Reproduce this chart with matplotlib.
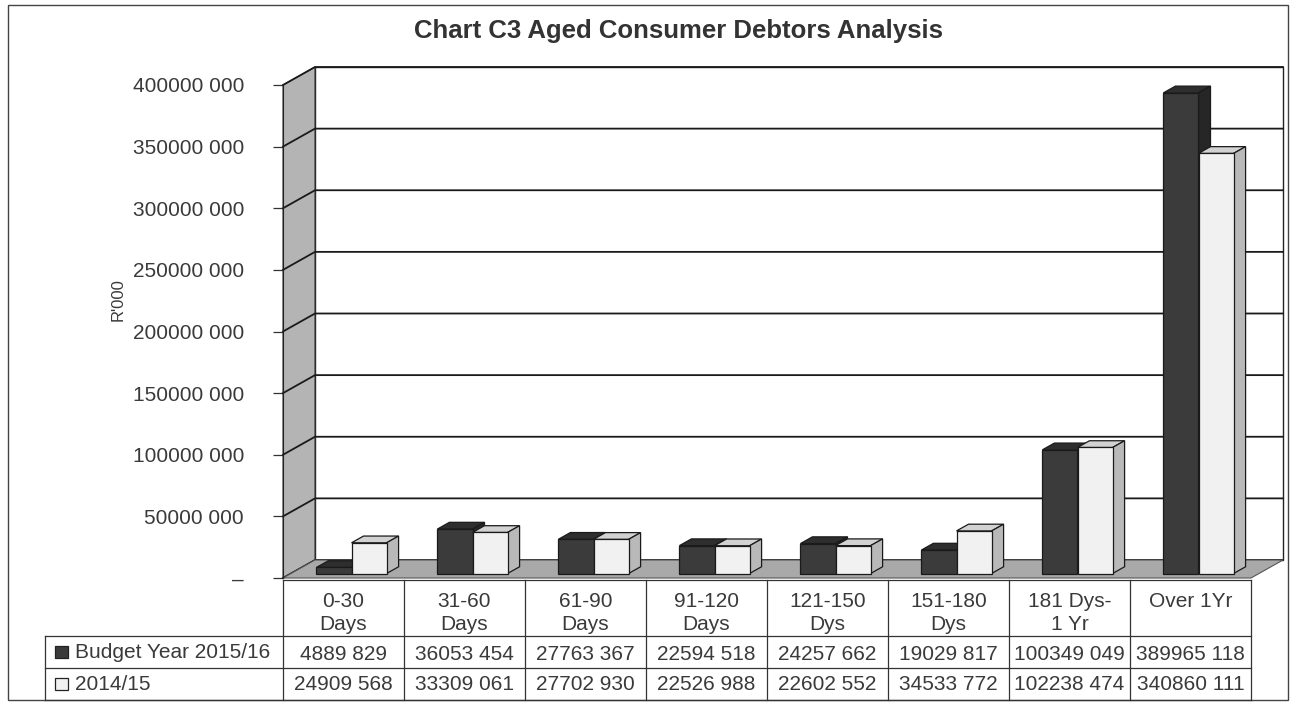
import matplotlib.pyplot as plt
from matplotlib.patches import Polygon, Rectangle
from matplotlib.lines import Line2D

plt.rcParams['font.family'] = ['Liberation Sans', 'DejaVu Sans']

categories = ["0-30\nDays", "31-60\nDays", "61-90\nDays", "91-120\nDays",
              "121-150\nDys", "151-180\nDys", "181 Dys-\n1 Yr", "Over 1Yr\n"]
budget_2015_16 = [4889829, 36053454, 27763367, 22594518, 24257662, 19029817, 100349049, 389965118]
year_2014_15 = [24909568, 33309061, 27702930, 22526988, 22602552, 34533772, 102238474, 340860111]
series_names = ["Budget Year 2015/16", "2014/15"]
y_ticks = [0, 50000000, 100000000, 150000000, 200000000, 250000000, 300000000, 350000000, 400000000]

W, H = 1292, 707
FS = 15
TXT = '#3a3a3a'


def fmt(v):
    s = str(int(v))
    if v == 0:
        return "\u2013"
    return s[:-3] + " " + s[-3:]


def fx(px):
    return px / W


def fy(py):
    return 1 - py / H


fig = plt.figure(figsize=(W / 100, H / 100), dpi=100)

# front plane of the 3d box: x 283..1251, y 578 (0) .. 85 (400M)
ax = fig.add_axes([fx(283), fy(578), fx(1251) - fx(283), fy(85) - fy(578)])
n = len(categories)
ymax = 400000000
ax.set_xlim(-0.5, n - 0.5)
ax.set_ylim(0, ymax)

# depth of the box in data units (32 px right, 18 px up)
px_x = (1251 - 283) / n
px_y = (578 - 85) / ymax
DX = 32 / px_x
DY = 18 / px_y

# back wall
ax.add_patch(Polygon([(-0.5 + DX, DY), (n - 0.5 + DX, DY), (n - 0.5 + DX, ymax + DY), (-0.5 + DX, ymax + DY)],
                     closed=True, facecolor='white', edgecolor='#222222', lw=1.0, clip_on=False, zorder=0))
# left wall
ax.add_patch(Polygon([(-0.5, 0), (-0.5, ymax), (-0.5 + DX, ymax + DY), (-0.5 + DX, DY)],
                     closed=True, facecolor='#b4b4b4', edgecolor='#333333', lw=0.8, clip_on=False, zorder=1))
# gridlines
for t in y_ticks:
    ax.plot([-0.5, -0.5 + DX, n - 0.5 + DX], [t, t + DY, t + DY], color='#1a1a1a', lw=1.3,
            clip_on=False, zorder=2)
# floor
ax.add_patch(Polygon([(-0.5, 0), (n - 0.5, 0), (n - 0.5 + DX, DY), (-0.5 + DX, DY)],
                     closed=True, facecolor='#a9a9a9', edgecolor='#555555', lw=0.8, clip_on=False, zorder=3))

# bars: front face placed a quarter into the depth, bar depth 3/8 of the box
bw = 0.29
off_x, off_y = DX * 0.25, DY * 0.25
dep_x, dep_y = DX * 0.375, DY * 0.375
styles = [
    dict(front='#3b3b3b', top='#2e2e2e', side='#262626'),
    dict(front='#f1f1f1', top='#d2d2d2', side='#b9b9b9'),
]
for i in range(n):
    for j, vals in enumerate([budget_2015_16, year_2014_15]):
        h = vals[i]
        x0 = i - bw + j * bw + off_x
        x1 = x0 + bw
        y0 = off_y
        y1 = h + off_y
        st = styles[j]
        z = 4 + i * 0.1 + j * 0.01
        ax.bar(x0, h, width=bw, bottom=y0, align='edge', color=st['front'],
               edgecolor='#1a1a1a', lw=0.9, clip_on=False, zorder=z + 0.005)
        ax.add_patch(Polygon([(x0, y1), (x1, y1), (x1 + dep_x, y1 + dep_y), (x0 + dep_x, y1 + dep_y)],
                             closed=True, facecolor=st['top'], edgecolor='#1a1a1a', lw=0.9,
                             clip_on=False, zorder=z))
        ax.add_patch(Polygon([(x1, y0), (x1 + dep_x, y0 + dep_y), (x1 + dep_x, y1 + dep_y), (x1, y1)],
                             closed=True, facecolor=st['side'], edgecolor='#1a1a1a', lw=0.9,
                             clip_on=False, zorder=z))

ax.patch.set_visible(False)
for s in ['top', 'right', 'bottom']:
    ax.spines[s].set_visible(False)
ax.spines['left'].set_color('#222222')
ax.spines['left'].set_zorder(10)
ax.set_xticks([])
ax.set_yticks(y_ticks)
ax.set_yticklabels([fmt(t) for t in y_ticks], fontsize=FS, color=TXT)
ax.tick_params(axis='y', length=7, width=0.9, color='#333333', pad=21)

# axis unit label, kept left of the tick labels
fig.text(fx(118), fy(300), "R'000", rotation=90, ha='center', va='center', fontsize=12, color=TXT)

# title
fig.text(fx(679), fy(31), "Chart C3 Aged Consumer Debtors Analysis", ha='center', va='center',
         fontsize=18.5, fontweight='bold', color='#333333')

# outer border
fig.add_artist(Rectangle((fx(8), fy(700)), fx(1288) - fx(8), fy(5) - fy(700), transform=fig.transFigure,
                         fill=False, edgecolor='#444444', lw=1.0))

# data table
col_edges = [283 + k * px_x for k in range(n + 1)]
row_top, row_mid1, row_mid2, row_bot = 580, 636, 668, 700
lc = '#333333'


def hline(x0, x1, y):
    fig.add_artist(Line2D([fx(x0), fx(x1)], [fy(y), fy(y)], color=lc, lw=0.9))


def vline(x, y0, y1):
    fig.add_artist(Line2D([fx(x), fx(x)], [fy(y0), fy(y1)], color=lc, lw=0.9))


hline(283, 1251, row_top)
hline(45, 1251, row_mid1)
hline(45, 1251, row_mid2)
hline(45, 1251, row_bot)
vline(45, row_mid1, row_bot)
for e in col_edges:
    vline(e, row_top, row_bot)

for i, c in enumerate(categories):
    cx = (col_edges[i] + col_edges[i + 1]) / 2
    fig.text(fx(cx), fy(613), c, ha='center', va='center', fontsize=FS,
             color=TXT, linespacing=1.3)
    fig.text(fx(cx), fy((row_mid1 + row_mid2) / 2 + 2), fmt(budget_2015_16[i]), ha='center', va='center',
             fontsize=FS, color=TXT)
    fig.text(fx(cx), fy((row_mid2 + row_bot) / 2 + 1), fmt(year_2014_15[i]), ha='center', va='center',
             fontsize=FS, color=TXT)

key_colors = ['#3b3b3b', '#f1f1f1']
for j, (name, y0, y1) in enumerate([(series_names[0], row_mid1, row_mid2), (series_names[1], row_mid2, row_bot)]):
    cy = (y0 + y1) / 2
    fig.add_artist(Rectangle((fx(55), fy(cy + 6)), fx(13), fy(0) - fy(12), transform=fig.transFigure,
                             facecolor=key_colors[j], edgecolor='#222222', lw=0.9))
    fig.text(fx(75), fy(cy + 1), name, ha='left', va='center', fontsize=FS, color=TXT)

fig.savefig("out.png", dpi=100)
